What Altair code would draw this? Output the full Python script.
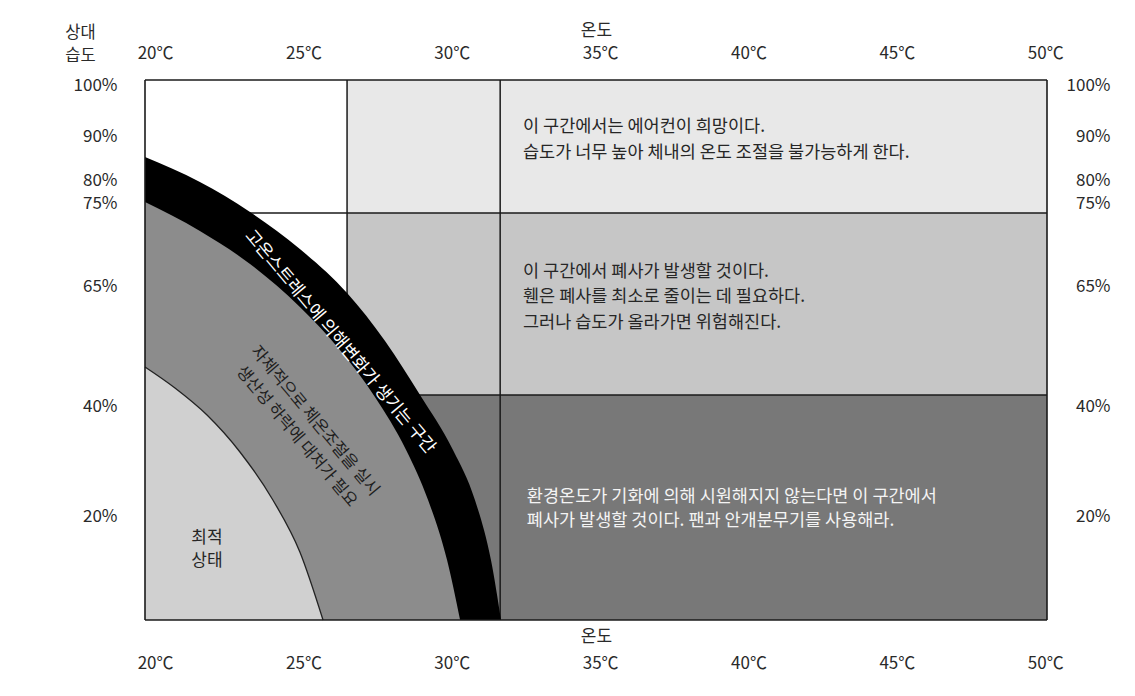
import altair as alt
import pandas as pd

FONT = "Noto Sans CJK KR"
INK = "#262626"

# ---- axis ticks -------------------------------------------------------
temp_ticks = [20, 25, 30, 35, 40, 45, 50]
humidity_ticks = [100, 90, 80, 75, 65, 40, 20]

# ---- curved zones (temperature ℃, relative humidity %) ------------------
stress_t = [19.66, 21.51, 23.20, 24.88, 26.47, 27.75, 28.93, 30.04, 30.78, 31.32, 31.66]
stress_h = [85.23, 79.57, 73.92, 69.46, 63.54, 53.54, 42.29, 32.0, 22.91, 11.96, 1.0]
regulate_t = [19.66, 21.51, 23.20, 24.88, 26.23, 27.41, 28.46, 29.20, 29.84, 30.28]
regulate_h = [75.22, 71.63, 67.65, 60.63, 51.67, 41.88, 32.0, 22.91, 11.96, 1.0]
optimum_t = [19.66, 20.67, 21.75, 22.86, 23.97, 24.88, 25.66]
optimum_h = [48.13, 43.75, 38.36, 31.64, 22.91, 13.42, 1.0]

# ---- rectangular zones --------------------------------------------------
zone_t0 = [26.47, 26.47, 19.66]
zone_t1 = [50.06, 50.06, 50.06]
zone_h0 = [73.8, 42.3, 1.0]
zone_h1 = [101.0, 73.8, 42.3]
zone_fill = ["#e8e8e8", "#c6c6c6", "#787878"]

# ---- divider lines --------------------------------------------------------
div_t0 = [26.47, 31.63, 19.66, 19.66]
div_t1 = [26.47, 31.63, 50.06, 50.06]
div_h0 = [42.3, 1.0, 73.8, 42.3]
div_h1 = [101.0, 101.0, 73.8, 42.3]

# frame of the plot (domain limits)
frame_t0 = [19.66, 19.66, 19.66, 50.06]
frame_t1 = [50.06, 50.06, 19.66, 50.06]
frame_h0 = [1.0, 101.0, 1.0, 1.0]
frame_h1 = [1.0, 101.0, 101.0, 101.0]

# ---- annotations (anchor = first line) --------------------------------------
top_note = ["이 구간에서는 에어컨이 희망이다.\n습도가 너무 높아  체내의 온도 조절을 불가능하게 한다."]
top_note_t = [32.40]
top_note_h = [91.76]

mid_note = ["이 구간에서 폐사가 발생할 것이다.\n휀은 폐사를 최소로 줄이는 데 필요하다.\n그러나 습도가 올라가면 위험해진다."]
mid_note_t = [32.40]
mid_note_h = [66.69]

white_note = ["환경온도가 기화에 의해 시원해지지 않는다면 이 구간에서\n폐사가 발생할 것이다. 팬과 안개분무기를 사용해라."]
white_note_t = [32.53]
white_note_h = [23.45]

optimum_note = ["최적\n상태"]
optimum_note_t = [21.75]
optimum_note_h = [15.98]

band_note = ["고온스트레스에 의해변화가 생기는 구간"]
band_note_t = [26.23]
band_note_h = [53.33]

regulate_note = ["자체적으로 체온조절을 실시\n생산성 하락에 대처가 필요"]
regulate_note_t = [25.39]
regulate_note_h = [37.27]

# ---- scales ---------------------------------------------------------------
xs = alt.Scale(domain=[19.66, 50.06], nice=False, zero=False)
ys = alt.Scale(
    domain=[1, 20, 40, 65, 75, 80, 90, 100, 101],
    range=[540, 436, 326, 206, 123, 100, 56, 5, 0],
    nice=False,
    zero=False,
)

x_top = alt.Axis(
    orient="top", values=temp_ticks, labelExpr="datum.value + '℃'",
    labelPadding=27, labelBaseline="middle", labelFlush=False, labelOverlap=False,
    title="온도", titleY=-50, titleBaseline="middle",
)
x_bottom = alt.Axis(
    orient="bottom", values=temp_ticks, labelExpr="datum.value + '℃'",
    labelPadding=43, labelBaseline="middle", labelFlush=False, labelOverlap=False,
    title="온도", titleY=16, titleBaseline="middle",
)
y_left = alt.Axis(
    orient="left", values=humidity_ticks, labelExpr="datum.value + '%'",
    labelPadding=28, labelBaseline="middle", labelFlush=False, labelOverlap=False,
    title=["상대", "습도"], titleAngle=0, titleX=-65, titleY=-48,
    titleAlign="center", titleBaseline="middle", titleLineHeight=23, titleFontSize=16.5,
)
y_right = alt.Axis(
    orient="right", values=humidity_ticks, labelExpr="datum.value + '%'",
    labelPadding=63, labelAlign="right", labelBaseline="middle",
    labelFlush=False, labelOverlap=False, title=None,
)


def X(field, axis=None):
    return alt.X(field, type="quantitative", scale=xs, axis=axis)


def Y(field, axis=None):
    return alt.Y(field, type="quantitative", scale=ys, axis=axis)


zones = pd.DataFrame({"t0": zone_t0, "t1": zone_t1, "h0": zone_h0, "h1": zone_h1, "fill": zone_fill})
zone_layer = alt.Chart(zones).mark_rect().encode(
    x=X("t0", x_top), x2="t1", y=Y("h0", y_left), y2="h1",
    color=alt.Color("fill:N", scale=None),
)

dividers = pd.DataFrame({"t0": div_t0, "t1": div_t1, "h0": div_h0, "h1": div_h1})
divider_layer = alt.Chart(dividers).mark_rule(color="#1a1a1a", strokeWidth=1.5).encode(
    x=X("t0", x_bottom), x2="t1", y=Y("h0", y_right), y2="h1",
)


def zone_area(ts, hs, color):
    df = pd.DataFrame({"t": ts, "h": hs, "base": [1.0] * len(ts)})
    return alt.Chart(df).mark_area(color=color, interpolate="monotone").encode(
        x=X("t"), y=Y("h"), y2="base"
    )


stress_layer = zone_area(stress_t, stress_h, "#000000")
regulate_layer = zone_area(regulate_t, regulate_h, "#8c8c8c")
optimum_layer = zone_area(optimum_t, optimum_h, "#d0d0d0")
optimum_edge = alt.Chart(pd.DataFrame({"t": optimum_t, "h": optimum_h})).mark_line(
    color="#222222", strokeWidth=1.3, interpolate="monotone"
).encode(x=X("t"), y=Y("h"))

frame = pd.DataFrame({"t0": frame_t0, "t1": frame_t1, "h0": frame_h0, "h1": frame_h1})
frame_layer = alt.Chart(frame).mark_rule(color="#1a1a1a", strokeWidth=1.6).encode(
    x=X("t0"), x2="t1", y=Y("h0"), y2="h1",
)


def note_layer(texts, ts, hs, **mark):
    df = pd.DataFrame({"label": texts, "t": ts, "h": hs})
    return alt.Chart(df).mark_text(font=FONT, lineBreak="\n", baseline="middle", **mark).encode(
        x=X("t"), y=Y("h"), text="label:N"
    )


notes_top = note_layer(top_note, top_note_t, top_note_h,
                       align="left", fontSize=17.5, lineHeight=26, color=INK)
notes_mid = note_layer(mid_note, mid_note_t, mid_note_h,
                       align="left", fontSize=17.5, lineHeight=25.5, color=INK)
notes_white = note_layer(white_note, white_note_t, white_note_h,
                         align="left", fontSize=17.5, lineHeight=24, color="#f4f4f4")
notes_opt = note_layer(optimum_note, optimum_note_t, optimum_note_h,
                       align="center", fontSize=17, lineHeight=23, color=INK)
notes_band = note_layer(band_note, band_note_t, band_note_h,
                        align="center", fontSize=17.5, angle=50, color="#ffffff")
notes_reg = note_layer(regulate_note, regulate_note_t, regulate_note_h,
                       align="center", fontSize=16.5, lineHeight=24, angle=50, color="#1e1e1e")

chart = alt.layer(
    zone_layer, divider_layer, stress_layer, regulate_layer, optimum_layer, optimum_edge,
    frame_layer, notes_top, notes_mid, notes_white, notes_opt, notes_band, notes_reg,
).properties(
    width=902,
    height=540,
    padding={"left": 137, "top": 72, "right": 80, "bottom": 70},
    autosize=alt.AutoSizeParams(type="none"),
    background="white",
).configure_view(
    stroke=None
).configure_axis(
    labelFont=FONT, titleFont=FONT, labelColor="#2a2a2a", titleColor="#2a2a2a",
    labelFontSize=17, titleFontSize=17, titleFontWeight="normal",
    grid=False, ticks=False, domain=False,
)

chart.save("out.html", embed_options={"renderer": "svg", "actions": False})
